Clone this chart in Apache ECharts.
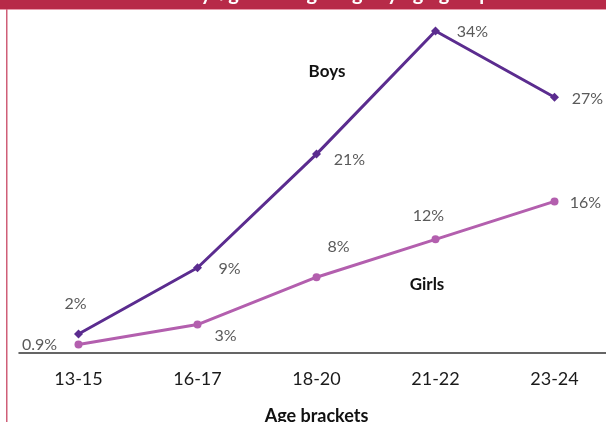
<!DOCTYPE html>
<html>
<head>
<meta charset="utf-8">
<script src="https://cdn.jsdelivr.net/npm/echarts@6/dist/echarts.min.js"></script>
<style>
  html, body { margin: 0; padding: 0; background: #fff; }
  #chart { width: 606px; height: 422px; }
</style>
</head>
<body>
<div id="chart"></div>
<script>
const categories = ["13-15", "16-17", "18-20", "21-22", "23-24"];
const boys = [2, 9, 21, 34, 27];
const girls = [0.9, 3, 8, 12, 16];
const boysLabels = ["2%", "9%", "21%", "34%", "27%"];
const girlsLabels = ["0.9%", "3%", "8%", "12%", "16%"];

// label centre offsets from each point
const boysOffsets = [[-3, -30], [32, 1], [33, 6], [37, 1], [33, 2]];
const girlsOffsets = [[-39, 0], [28, 11], [22, -30], [-7, -23], [31, 1]];

const FONT = "Lato";
const BOYS_COLOR = "#5b2c8f";
const GIRLS_COLOR = "#b35fae";

const chart = echarts.init(document.getElementById("chart"), null, { renderer: "canvas" });

function points(values, labels, offsets) {
  return values.map((v, i) => ({
    value: v,
    label: { formatter: labels[i], offset: offsets[i] }
  }));
}

const labelStyle = {
  show: true,
  position: "inside",
  color: "#5a5a5a",
  fontFamily: FONT,
  fontSize: 16
};

chart.setOption({
  animation: false,
  grid: { left: 19, top: 12, width: 595, height: 341, containLabel: false, outerBoundsMode: "none" },
  xAxis: {
    type: "category",
    data: categories,
    boundaryGap: true,
    axisLine: { lineStyle: { color: "#333", width: 1.5 } },
    axisTick: { show: false },
    axisLabel: { color: "#1a1a1a", fontFamily: FONT, fontSize: 18, margin: 17 },
    name: "Age brackets",
    nameLocation: "middle",
    nameGap: 54,
    nameTextStyle: { color: "#111", fontFamily: FONT, fontSize: 18, fontWeight: "bold" }
  },
  yAxis: {
    type: "value",
    min: 0,
    max: 36,
    show: false
  },
  series: [
    {
      name: "Boys",
      type: "line",
      data: points(boys, boysLabels, boysOffsets),
      symbol: "diamond",
      symbolSize: 9,
      lineStyle: { color: BOYS_COLOR, width: 3 },
      itemStyle: { color: BOYS_COLOR },
      label: labelStyle,
      z: 3
    },
    {
      name: "Girls",
      type: "line",
      data: points(girls, girlsLabels, girlsOffsets),
      symbol: "circle",
      symbolSize: 8,
      lineStyle: { color: GIRLS_COLOR, width: 3 },
      itemStyle: { color: GIRLS_COLOR },
      label: labelStyle,
      z: 2
    }
  ],
  graphic: [
    { type: "rect", shape: { x: 0, y: 0, width: 606, height: 9 }, style: { fill: "#b72a48" } },
    { type: "rect", shape: { x: 0, y: 9, width: 606, height: 1 }, style: { fill: "#e79aaa" } },
    { type: "rect", shape: { x: 6, y: 9, width: 1.5, height: 413 }, style: { fill: "#cf5f78" } },
    {
      type: "text", x: 100, y: -16,
      style: { text: "Share of boys/girls using drugs by age group", fill: "#fff", font: "bold 20px " + FONT }
    },
    {
      type: "text", x: 327, y: 72,
      style: { text: "Boys", fill: "#111", font: "bold 17px " + FONT, align: "center", verticalAlign: "middle" }
    },
    {
      type: "text", x: 427, y: 285,
      style: { text: "Girls", fill: "#111", font: "bold 17px " + FONT, align: "center", verticalAlign: "middle" }
    }
  ]
});
</script>
</body>
</html>
